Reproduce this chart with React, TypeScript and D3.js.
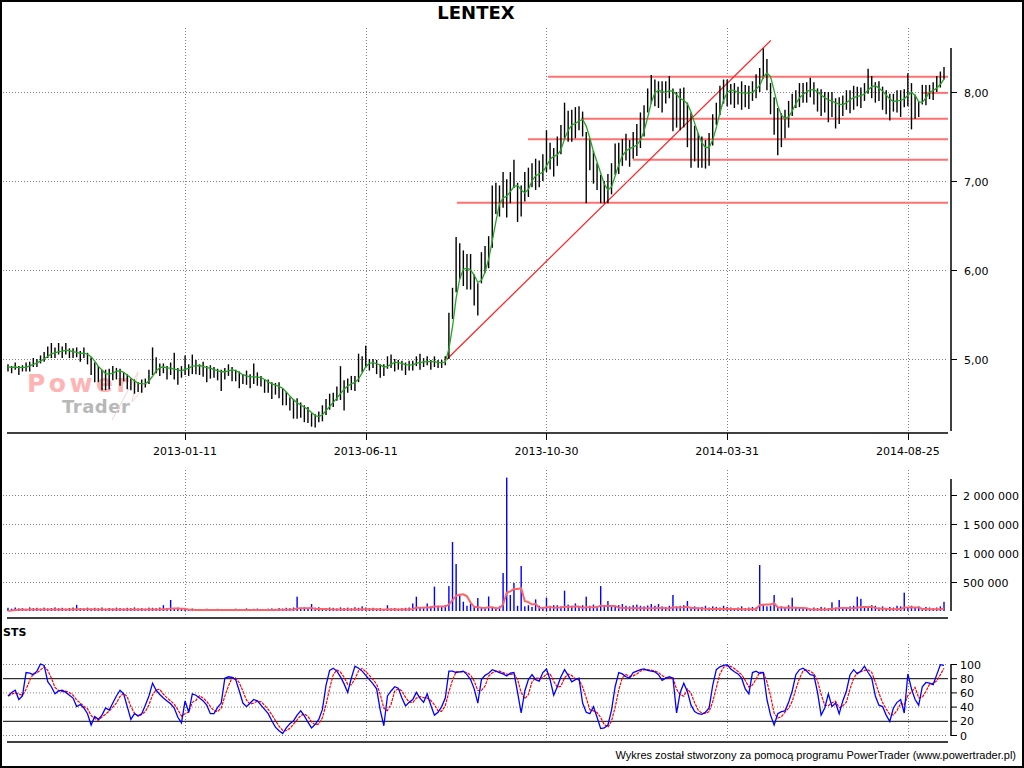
import React from 'react';
import * as d3 from 'd3';

// ---------- DATA ----------
const close = [
  4.91,4.90,4.92,4.89,4.91,4.92,4.94,4.96,4.97,5.00,
  5.03,5.06,5.08,5.07,5.10,5.09,5.11,5.08,5.06,5.08,
  5.05,5.07,5.04,4.97,4.92,4.86,4.85,4.80,4.84,4.88,
  4.87,4.85,4.83,4.78,4.75,4.73,4.71,4.72,4.74,4.80,
  4.88,4.92,4.91,4.90,4.89,4.90,4.87,4.86,4.87,4.92,
  4.89,4.95,4.93,4.90,4.92,4.89,4.88,4.87,4.86,4.84,
  4.87,4.89,4.87,4.85,4.82,4.80,4.81,4.79,4.80,4.80,
  4.77,4.74,4.72,4.70,4.70,4.68,4.63,4.58,4.54,4.51,
  4.48,4.46,4.44,4.40,4.36,4.33,4.37,4.42,4.47,4.51,
  4.56,4.61,4.66,4.71,4.72,4.73,4.76,4.84,4.93,4.97,
  4.95,4.96,4.93,4.91,4.89,4.95,4.98,4.96,4.94,4.95,
  4.92,4.93,4.95,4.97,4.96,4.97,4.98,4.96,4.97,4.95,
  4.96,4.98,5.40,5.70,5.95,6.05,6.02,6.00,5.98,5.85,
  5.75,6.05,6.12,6.20,6.65,6.78,6.80,6.85,6.84,6.95,
  7.02,6.88,6.80,6.92,7.00,7.08,7.10,7.05,7.15,7.30,
  7.28,7.25,7.35,7.45,7.62,7.64,7.62,7.68,7.72,7.68,
  7.45,7.32,7.22,7.10,6.95,6.85,6.90,7.05,7.22,7.28,
  7.35,7.38,7.36,7.40,7.46,7.52,7.70,7.92,8.02,8.04,
  8.00,7.97,8.02,8.05,7.96,7.90,7.92,7.90,7.78,7.65,
  7.52,7.42,7.35,7.36,7.42,7.60,7.78,7.92,8.02,8.04,
  8.01,8.00,7.98,8.00,7.98,7.99,8.02,8.08,8.12,8.30,
  8.22,8.00,7.82,7.72,7.68,7.70,7.78,7.88,7.94,7.98,
  8.00,8.03,8.04,8.01,7.96,7.93,7.92,7.88,7.90,7.85,
  7.84,7.88,7.92,7.94,7.95,7.96,7.97,8.00,8.10,8.08,
  8.03,8.02,7.98,7.90,7.88,7.90,7.92,7.90,7.95,8.04,
  8.00,7.85,7.82,7.98,8.00,8.02,8.03,8.08,8.15,8.20,
];

// high = close + upCents/100, low = close - downCents/100
const upCents = [
  3,2,4,3,2,4,3,5,3,4, 5,8,10,6,8,5,7,4,6,5, 4,6,3,5,4,6,3,8,5,4, 3,4,2,5,3,4,3,5,4,8,
  25,10,4,5,3,6,20,4,5,12, 5,10,6,4,5,3,5,4,3,4, 3,5,4,3,4,3,6,4,15,5, 4,3,5,4,3,6,4,5,3,4,
  8,5,4,6,3,5,4,6,8,10, 6,8,26,5,6,8,5,22,10,18, 5,4,6,3,5,8,7,4,5,3, 4,5,3,6,10,4,5,3,6,4,
  3,5,12,10,42,25,20,18,20,10, 10,15,15,18,30,20,15,25,18,15, 22,10,15,18,15,12,15,18,15,27,
  15,12,15,18,26,15,18,15,12,10, 10,15,12,10,12,15,18,15,20,15, 12,15,10,15,18,25,15,12,17,10,
  12,15,10,13,8,10,12,15,10,12, 10,12,15,10,12,15,10,15,12,10, 8,10,8,12,10,8,10,12,15,19,
  15,10,12,10,8,10,12,10,8,12, 10,8,12,10,8,10,8,12,10,8, 10,8,10,8,12,10,8,10,16,10,
  8,10,8,12,10,8,10,12,8,17, 10,12,8,10,8,6,8,10,8,8,
];
const downCents = [
  5,6,4,7,5,6,8,5,6,5, 6,5,7,6,5,8,6,7,5,6, 8,6,10,15,18,12,20,15,18,12, 10,15,8,12,10,12,8,10,6,8,
  6,8,10,6,12,8,10,15,8,10, 8,12,10,8,12,15,10,8,10,20, 10,8,12,10,15,8,10,12,8,10, 8,12,10,15,10,12,15,10,12,18,
  15,12,15,12,12,10,8,12,10,8, 10,8,12,29,10,8,12,10,8,6, 8,6,10,12,8,6,8,10,6,8, 10,6,8,5,8,6,5,8,6,5,
  6,5,40,25,20,15,20,22,20,25, 26,20,15,18,40,15,20,15,25,20, 10,34,20,15,18,15,20,12,15,20,
  15,20,18,15,15,20,18,20,15,18, 70,20,25,20,20,10,15,20,15,20, 18,15,20,15,18,15,20,15,15,20,
  18,20,15,12,40,30,35,30,40,50, 30,27,20,22,25,20,15,18,15,20, 15,18,12,20,15,18,12,15,12,15,
  20,25,30,43,30,22,18,15,12,15, 12,15,10,15,18,20,15,22,18,26, 20,15,12,18,15,12,15,10,12,15,
  15,12,18,15,20,12,15,18,12,20, 42,15,10,12,15,10,12,8,10,6,
];

// volume, thousands of shares (one bar = two sessions)
const volumeK = [
  55,40,60,45,50,38,62,48,55,42, 58,45,50,62,48,55,40,52,60,105,
  50,45,58,42,55,48,60,40,52,45, 58,50,42,55,48,62,45,50,40,58,
  55,48,60,100,52,190,45,58,40,50, 30,42,25,35,28,40,30,25,38,32,
  30,35,28,40,25,33,45,30,38,42, 35,28,40,45,38,50,42,55,48,60,
  247,55,62,50,120,58,65,52,48,60, 55,45,62,50,58,48,65,55,80,60,
  48,55,42,50,38,100,45,52,40,48, 55,60,130,247,65,70,130,80,420,90,
  75,100,430,1190,810,276,160,90,120,70, 224,60,50,250,70,60,80,655,2300,276,
  483,90,776,80,100,70,200,90,70,230, 90,100,100,80,350,110,90,130,80,100,
  247,90,110,80,430,100,172,90,80,100, 120,90,80,100,110,90,80,95,120,90,
  120,80,70,90,276,80,90,100,172,70, 80,60,70,90,60,80,70,60,90,70,
  60,50,60,80,50,60,70,60,793,100, 80,90,276,70,80,60,100,230,70,60,
  60,50,40,60,50,70,60,50,150,60, 190,70,60,80,90,247,210,60,80,100,
  90,60,80,50,70,60,90,80,316,60, 90,60,80,50,70,60,50,60,80,158,
];

// stochastic %K
const stsK = [
  55,60,63,50,55,88,87,85,90,100, 98,75,68,58,62,63,60,56,52,40,
  43,38,30,14,26,22,28,38,35,45, 55,63,58,40,22,30,27,30,42,55,
  73,63,57,52,48,44,38,25,17,48, 32,58,56,52,48,42,30,30,39,45,
  80,82,81,78,62,45,40,45,50,48, 42,36,30,20,11,6,2,10,16,20,
  28,34,27,18,10,15,22,36,70,91, 94,90,82,72,60,80,97,94,90,84,
  78,72,65,35,13,55,62,68,66,52, 41,46,50,60,52,46,58,42,28,32,
  40,52,90,90,88,89,90,85,78,65, 45,78,84,87,92,90,88,86,83,87,
  88,60,31,62,78,85,78,76,88,93, 78,56,68,82,92,84,75,78,80,45,
  32,30,40,25,9,10,14,35,68,88, 86,82,80,88,90,92,93,91,90,89,
  85,77,80,82,80,31,60,73,61,42, 33,30,29,32,38,70,92,96,98,99,
  93,89,86,80,65,58,88,90,87,88, 50,28,14,30,33,34,46,62,85,92,
  94,90,85,84,60,28,38,58,40,45, 30,48,62,85,92,86,90,97,88,80,
  55,42,40,28,19,38,46,50,31,86, 65,50,42,68,74,73,71,85,99,98,
];

const tickIdx = [49, 99, 149, 199, 249];
const tickLabels = ['2013-01-11', '2013-06-11', '2013-10-30', '2014-03-31', '2014-08-25'];
const priceTicks = [5, 6, 7, 8];
const volTicks = [500000, 1000000, 1500000, 2000000];
const stsTicks = [0, 20, 40, 60, 80, 100];
const stsGrid = [0, 40, 60, 100];
const stsLevels = [20, 80];

// drawn support / resistance lines: start bar index and price level
const levelStart = [149.4, 158.6, 143.9, 172.9, 124.2, 253];
const levelValue = [8.17, 7.70, 7.47, 7.24, 6.755, 7.99];
// trend line endpoints: [bar index, price]
const trendStart = [121.5, 5.0];
const trendEnd = [211.1, 8.58];

// ---------- HELPERS ----------
const sma = (arr: number[], n: number) =>
  arr.map((_, i) => d3.mean(arr.slice(Math.max(0, i - n + 1), i + 1)) as number);
// 10-session average volume: 5 bars of two sessions each
const sessionAvg = (arr: number[], bars: number) =>
  arr.map((_, i) => (d3.sum(arr.slice(Math.max(0, i - bars + 1), i + 1)) as number) / (bars * 2));

const FONT = 'DejaVu Sans, Verdana, sans-serif';

export default function App() {
  const n = close.length;
  const x = d3.scaleLinear().domain([0, n - 1]).range([8, 944]);
  const yP = d3.scaleLinear().domain([5, 8]).range([359, 92]);
  const yV = d3.scaleLinear().domain([0, 2000000]).range([611, 495]);
  const yS = d3.scaleLinear().domain([0, 100]).range([735, 664]);

  const plotL = 7;
  const plotR = 948;
  const axisX = 951;

  const ma = sma(close, 3);
  const volMa = sessionAvg(volumeK, 5);
  const stsD = sma(stsK, 3);

  const maLine = d3.line<number>().x((_, i) => x(i)).y((d) => yP(d));
  const volLine = d3.line<number>().x((_, i) => x(i)).y((d) => yV(d * 1000));
  const stsLine = d3.line<number>().x((_, i) => x(i)).y((d) => yS(d));

  const fmtPrice = (v: number) => d3.format('.2f')(v).replace('.', ',');
  const fmtVol = (v: number) => d3.format(',')(v).replace(/,/g, ' ');

  const dotted = { stroke: '#808080', strokeWidth: 1, strokeDasharray: '1,2' };

  return (
    <svg
      width={1024}
      height={768}
      style={{ position: 'absolute', left: 0, top: 0, background: '#fff' }}
      fontFamily={FONT}
    >
      <rect x={0} y={0} width={1024} height={768} fill="#fff" />
      <rect x={1} y={1} width={1022} height={766} fill="none" stroke="#000" strokeWidth={2} />

      {/* Title */}
      <text x={476} y={19} textAnchor="middle" fontSize={18} fontWeight="bold" fill="#000">
        LENTEX
      </text>

      {/* Watermark */}
      <g>
        <text x={27} y={392} fontSize={25} fontWeight="bold" fill="#ffb4b4" letterSpacing={3.5}>
          Power
        </text>
        <text x={62} y={413} fontSize={18} fontWeight="bold" fill="#b8b8b8" letterSpacing={0.5}>
          Trader
        </text>
        <path d="M112,420 L138,372 L132,402 L162,366" fill="none" stroke="#ffd0d0" strokeWidth={1} />
      </g>

      {/* ---------- PRICE PANEL ---------- */}
      {priceTicks.map((t) => (
        <line key={'pg' + t} x1={3} x2={plotR} y1={yP(t) + 0.5} y2={yP(t) + 0.5} {...dotted} />
      ))}
      {tickIdx.map((t) => (
        <line key={'pv' + t} x1={Math.round(x(t)) + 0.5} x2={Math.round(x(t)) + 0.5} y1={28} y2={433} {...dotted} />
      ))}

      {/* level lines */}
      {levelValue.map((v, k) => (
        <line
          key={'lv' + k}
          x1={x(levelStart[k])}
          x2={plotR}
          y1={yP(v)}
          y2={yP(v)}
          stroke="#ff7070"
          strokeWidth={2}
        />
      ))}
      <line
        x1={x(trendStart[0])}
        y1={yP(trendStart[1])}
        x2={x(trendEnd[0])}
        y2={yP(trendEnd[1])}
        stroke="#ff2020"
        strokeWidth={1.2}
      />

      {/* price bars */}
      {close.map((c, i) => (
        <line
          key={'b' + i}
          x1={x(i)}
          x2={x(i)}
          y1={yP(c + upCents[i] / 100)}
          y2={yP(c - downCents[i] / 100)}
          stroke="#000"
          strokeWidth={1.4}
        />
      ))}
      <path d={maLine(ma) || ''} fill="none" stroke="#22a522" strokeWidth={1.3} />

      {/* x axis */}
      <line x1={plotL} x2={plotR} y1={433} y2={433} stroke="#000" strokeWidth={1.5} />
      {tickIdx.map((t, k) => (
        <g key={'xt' + t}>
          <line x1={Math.round(x(t)) + 0.5} x2={Math.round(x(t)) + 0.5} y1={433} y2={440} stroke="#000" />
          <text x={x(t)} y={455} textAnchor="middle" fontSize={11} fill="#000">
            {tickLabels[k]}
          </text>
        </g>
      ))}
      {/* price y axis */}
      <line x1={axisX} x2={axisX} y1={48} y2={431} stroke="#000" strokeWidth={1.5} />
      {priceTicks.map((t) => (
        <g key={'yt' + t}>
          <line x1={axisX} x2={axisX + 6} y1={yP(t) + 0.5} y2={yP(t) + 0.5} stroke="#000" />
          <text x={964} y={yP(t) + 4.5} fontSize={11} fill="#000">
            {fmtPrice(t)}
          </text>
        </g>
      ))}

      {/* ---------- VOLUME PANEL ---------- */}
      {volTicks.map((t) => (
        <line key={'vg' + t} x1={3} x2={plotR} y1={yV(t) + 0.5} y2={yV(t) + 0.5} {...dotted} />
      ))}
      {tickIdx.map((t) => (
        <line key={'vv' + t} x1={Math.round(x(t)) + 0.5} x2={Math.round(x(t)) + 0.5} y1={470} y2={618} {...dotted} />
      ))}
      {volumeK.map((v, i) => (
        <rect
          key={'v' + i}
          x={x(i) - 0.7}
          width={1.4}
          y={yV(v * 1000)}
          height={yV(0) - yV(v * 1000)}
          fill="#0000ff"
        />
      ))}
      <path d={volLine(volMa) || ''} fill="none" stroke="#ff6464" strokeWidth={2} />
      <line x1={plotL} x2={plotR} y1={618} y2={618} stroke="#000" strokeWidth={1.5} />
      <line x1={axisX} x2={axisX} y1={479} y2={611} stroke="#000" strokeWidth={1.5} />
      {volTicks.map((t) => (
        <g key={'vt' + t}>
          <line x1={axisX} x2={axisX + 6} y1={yV(t) + 0.5} y2={yV(t) + 0.5} stroke="#000" />
          <text x={963} y={yV(t) + 4.5} fontSize={11} fill="#000">
            {fmtVol(t)}
          </text>
        </g>
      ))}

      {/* ---------- STS PANEL ---------- */}
      <text x={3} y={636} fontSize={11} fontWeight="bold" fill="#000">
        STS
      </text>
      {stsGrid.map((t) => (
        <line key={'sg' + t} x1={3} x2={plotR} y1={yS(t) + 0.5} y2={yS(t) + 0.5} {...dotted} />
      ))}
      {stsLevels.map((t) => (
        <line key={'sl' + t} x1={3} x2={plotR} y1={yS(t) + 0.5} y2={yS(t) + 0.5} stroke="#000" strokeWidth={1} />
      ))}
      {tickIdx.map((t) => (
        <line key={'sv' + t} x1={Math.round(x(t)) + 0.5} x2={Math.round(x(t)) + 0.5} y1={644} y2={738} {...dotted} />
      ))}
      <path d={stsLine(stsD) || ''} fill="none" stroke="#ff0000" strokeWidth={1.2} strokeDasharray="3,1" />
      <path d={stsLine(stsK) || ''} fill="none" stroke="#0000ff" strokeWidth={1.3} />
      <line x1={plotL} x2={plotR} y1={742} y2={742} stroke="#000" strokeWidth={1.5} />
      <line x1={axisX} x2={axisX} y1={664} y2={736} stroke="#000" strokeWidth={1.5} />
      {stsTicks.map((t) => (
        <g key={'st' + t}>
          <line x1={axisX} x2={axisX + 6} y1={yS(t) + 0.5} y2={yS(t) + 0.5} stroke="#000" />
          <text x={960} y={yS(t) + 4.5} fontSize={11} fill="#000">
            {t}
          </text>
        </g>
      ))}

      {/* Footer */}
      <text x={1016} y={759} textAnchor="end" fontSize={11} fontFamily="Liberation Sans, Arial, sans-serif" fill="#000">
        Wykres został stworzony za pomocą programu PowerTrader (www.powertrader.pl)
      </text>
    </svg>
  );
}
